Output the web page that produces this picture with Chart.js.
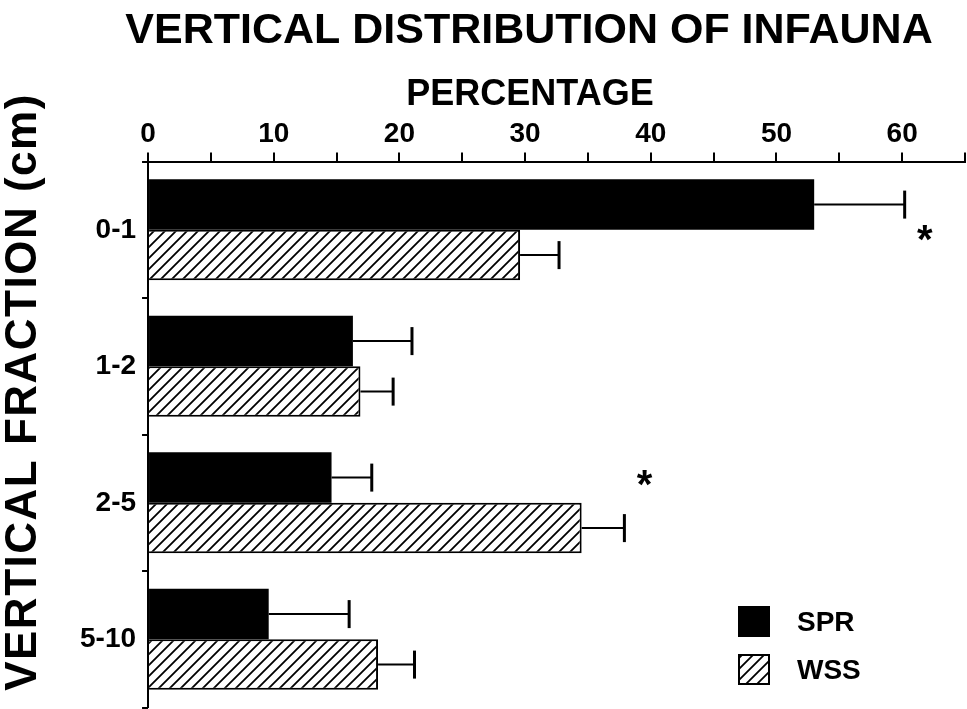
<!DOCTYPE html>
<html>
<head>
<meta charset="utf-8">
<script src="https://cdn.jsdelivr.net/npm/chart.js@4.4.0/dist/chart.umd.min.js"></script>
<style>
html, body { margin: 0; padding: 0; background: #fff; overflow: hidden; }
#wrap { width: 967px; height: 709px; }
</style>
</head>
<body>
<div id="wrap"><canvas id="chart1"></canvas></div>
<script>
var fractions = ['0-1', '1-2', '2-5', '5-10'];
var sprValues = [53.0, 16.3, 14.6, 9.6];
var sprErrors = [7.2, 4.7, 3.2, 6.4];
var wssValues = [29.6, 16.9, 34.5, 18.3];
var wssErrors = [3.1, 2.6, 3.4, 2.9];
var significant = [true, false, true, false];

var fam = '"Liberation Sans", Arial, sans-serif';

function hatch() {
    var s = 11;
    var c = document.createElement('canvas');
    c.width = s; c.height = s;
    var g = c.getContext('2d');
    g.fillStyle = '#fff';
    g.fillRect(0, 0, s, s);
    g.strokeStyle = '#000';
    g.lineWidth = 1.8;
    g.beginPath();
    g.moveTo(-2, s + 2); g.lineTo(s + 2, -2);
    g.moveTo(-2, 2); g.lineTo(2, -2);
    g.moveTo(s - 2, s + 2); g.lineTo(s + 2, s - 2);
    g.stroke();
    return g.createPattern(c, 'repeat');
}
var wssFill = hatch();

// error bars, asterisks, legend, titles and short y ticks
var extras = {
    id: 'extras',
    afterDatasetsDraw: function (chart) {
        var ctx = chart.ctx;
        var xs = chart.scales.x, ys = chart.scales.y;
        var area = chart.chartArea;
        ctx.save();
        ctx.strokeStyle = '#000';
        chart.data.datasets.forEach(function (ds, di) {
            var meta = chart.getDatasetMeta(di);
            meta.data.forEach(function (bar, i) {
                var end = xs.getPixelForValue(ds.data[i] + ds.errors[i]);
                ctx.lineWidth = 2;
                ctx.beginPath();
                ctx.moveTo(bar.x, bar.y);
                ctx.lineTo(end, bar.y);
                ctx.stroke();
                ctx.lineWidth = 3;
                ctx.beginPath();
                ctx.moveTo(end, bar.y - 14);
                ctx.lineTo(end, bar.y + 14);
                ctx.stroke();
            });
        });

        // category boundary ticks
        ctx.lineWidth = 2;
        for (var k = 0; k <= fractions.length; k++) {
            var ty = Math.round(ys.getPixelForValue(k - 0.5));
            ctx.beginPath();
            ctx.moveTo(area.left - 6, ty);
            ctx.lineTo(area.left, ty);
            ctx.stroke();
        }

        // significance marks
        ctx.fillStyle = '#000';
        ctx.font = 'bold 40px ' + fam;
        ctx.textAlign = 'center';
        ctx.textBaseline = 'middle';
        significant.forEach(function (sig, i) {
            if (!sig) return;
            var top = Math.max(sprValues[i] + sprErrors[i], wssValues[i] + wssErrors[i]);
            var px = xs.getPixelForValue(top + 1.6);
            var py = ys.getPixelForValue(i) + (i === 0 ? 12 : -16);
            ctx.fillText('*', px, py);
        });

        // legend
        ctx.font = 'bold 28px ' + fam;
        ctx.textAlign = 'left';
        chart.data.datasets.forEach(function (ds, di) {
            var bx = 739, by = 607 + di * 48;
            ctx.fillStyle = ds.backgroundColor;
            ctx.fillRect(bx, by, 30, 29);
            ctx.lineWidth = 2;
            ctx.strokeRect(bx, by, 30, 29);
            ctx.fillStyle = '#000';
            ctx.fillText(ds.label, 797, by + 16);
        });

        // titles
        ctx.textAlign = 'center';
        ctx.font = 'bold 43px ' + fam;
        ctx.fillText('VERTICAL DISTRIBUTION OF INFAUNA', 529, 31);
        ctx.font = 'bold 36px ' + fam;
        ctx.fillText('PERCENTAGE', 530, 95);

        ctx.translate(24, 392);
        ctx.rotate(-Math.PI / 2);
        ctx.font = 'bold 44px ' + fam;
        ctx.letterSpacing = '1.5px';
        ctx.fillText('VERTICAL FRACTION (cm)', 0, 0);
        ctx.restore();
    }
};

var chart1Ctx = document.querySelector('canvas#chart1').getContext('2d');

var chart1 = new Chart(chart1Ctx, {
    type: 'bar',
    data: {
        labels: fractions,
        datasets: [{
            label: 'SPR',
            data: sprValues,
            errors: sprErrors,
            backgroundColor: '#000',
            borderColor: '#000',
            borderWidth: 0
        },
        {
            label: 'WSS',
            data: wssValues,
            errors: wssErrors,
            backgroundColor: wssFill,
            borderColor: '#000',
            borderWidth: 2
        }]
    },
    plugins: [extras],
    options: {
        indexAxis: 'y',
        responsive: true,
        maintainAspectRatio: false,
        animation: false,
        categoryPercentage: 0.74,
        barPercentage: 1,
        layout: { padding: { left: 80, right: 2, bottom: 0, top: 115 } },
        plugins: {
            legend: { display: false },
            tooltip: { enabled: false },
            title: { display: false }
        },
        scales: {
            x: {
                position: 'top',
                min: 0,
                max: 65,
                ticks: {
                    stepSize: 5,
                    color: '#000',
                    font: { family: fam, size: 28, weight: 'bold' },
                    padding: 2,
                    callback: function (v) { return v % 10 === 0 ? v : ''; }
                },
                grid: { drawOnChartArea: false, color: '#000', lineWidth: 2, tickLength: 9 },
                border: { color: '#000', width: 2 }
            },
            y: {
                offset: true,
                ticks: {
                    color: '#000',
                    font: { family: fam, size: 28, weight: 'bold', lineHeight: 0.1 },
                    padding: 0
                },
                grid: { offset: true, drawOnChartArea: false, tickColor: 'rgba(0,0,0,0)', tickLength: 12 },
                border: { color: '#000', width: 2 }
            }
        }
    }
});
</script>
</body>
</html>
